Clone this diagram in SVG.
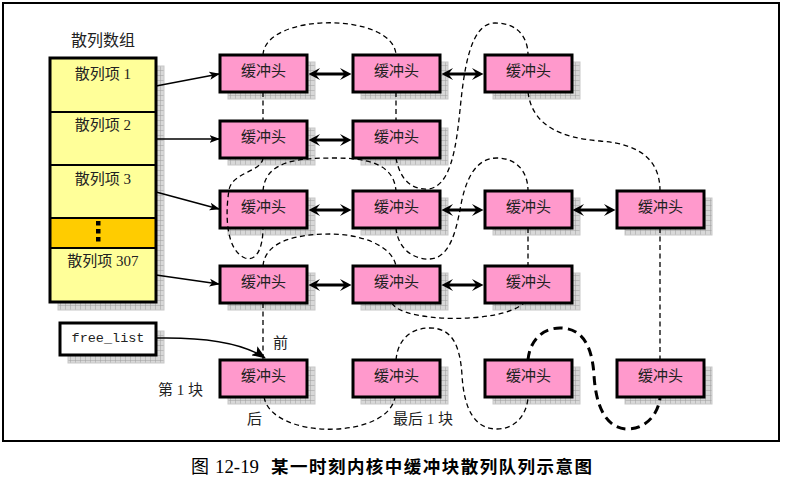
<svg xmlns="http://www.w3.org/2000/svg" width="785" height="477" viewBox="0 0 785 477">
<defs>
<pattern id="grid" patternUnits="userSpaceOnUse" width="5" height="5">
<rect width="5" height="5" fill="#d8d8d8"/>
<path d="M0,0.3H5M0.3,0V5" stroke="#9a9a9a" stroke-width="0.6" fill="none"/>
</pattern>
<marker id="dbl" markerUnits="userSpaceOnUse" markerWidth="13" markerHeight="13" refX="5" refY="6.5" orient="auto-start-reverse" viewBox="0 0 13 13">
<path d="M0,0.5 L11.5,6.5 L0,12.5 L4.5,6.5 z" fill="#000"/>
</marker>
<marker id="thin" markerUnits="userSpaceOnUse" markerWidth="11" markerHeight="9" refX="9.5" refY="4.5" orient="auto" viewBox="0 0 11 9">
<path d="M0,0.5 L10.5,4.5 L0,8.5 L2.5,4.5 z" fill="#000"/>
</marker>
<marker id="big" markerUnits="userSpaceOnUse" markerWidth="14" markerHeight="11" refX="13" refY="5.5" orient="auto" viewBox="0 0 14 11">
<path d="M0,0 L14,5.5 L0,11 L3,5.5 z" fill="#000"/>
</marker>
</defs>
<style>
.frame{fill:#fff;stroke:#000;stroke-width:2}
.sh{fill:url(#grid);stroke:#c8c8c8;stroke-width:1}
.buf{fill:#ff99cc;stroke:#000;stroke-width:3}
.cell{fill:#ffff99;stroke:#000;stroke-width:2}
.orange{fill:#ffcc00;stroke:#000;stroke-width:2}
.t{font-family:"Liberation Serif","Noto Sans CJK SC",serif;font-size:15px;fill:#222}
.m{font-family:"Liberation Mono",monospace;font-size:13.5px;fill:#222}
.cap{font-family:"Liberation Serif","Noto Sans CJK SC",serif;font-size:18px;fill:#000}
.capb{font-family:"Noto Sans CJK SC",sans-serif;font-size:17.5px;font-weight:bold;fill:#000}
.dash{fill:none;stroke:#000;stroke-width:1.3;stroke-dasharray:5 3.5}
.thick{fill:none;stroke:#000;stroke-width:3;stroke-dasharray:9 5.5}
.da{stroke:#000;stroke-width:3;marker-start:url(#dbl);marker-end:url(#dbl)}
.ta{stroke:#000;stroke-width:1.5;fill:none;marker-end:url(#thin)}
</style>
<rect class="frame" x="3" y="3" width="776" height="438"/>

<g id="hash-array">
<text class="t" x="103" y="46" text-anchor="middle" style="font-size:16px">散列数组</text>
<rect class="sh" x="58" y="66" width="106" height="244"/>
<rect class="cell" x="50" y="58" width="106" height="54"/>
<rect class="cell" x="50" y="112" width="106" height="53"/>
<rect class="cell" x="50" y="165" width="106" height="53"/>
<rect class="orange" x="50" y="218" width="106" height="30"/>
<rect class="cell" x="50" y="248" width="106" height="54"/>
<rect x="50" y="58" width="106" height="244" fill="none" stroke="#000" stroke-width="3"/>
<rect x="96" y="221" width="4.5" height="4.5" fill="#000"/>
<rect x="96" y="229" width="4.5" height="4.5" fill="#000"/>
<rect x="96" y="237" width="4.5" height="4.5" fill="#000"/>
<text class="t" x="103" y="79" text-anchor="middle">散列项 1</text>
<text class="t" x="103" y="130" text-anchor="middle">散列项 2</text>
<text class="t" x="103" y="184" text-anchor="middle">散列项 3</text>
<text class="t" x="103" y="266" text-anchor="middle">散列项 307</text>
</g>

<g id="free-list">
<rect class="sh" x="68" y="331" width="96" height="32"/>
<rect x="60" y="323" width="96" height="32" fill="#fff" stroke="#000" stroke-width="3"/>
<text class="m" x="108" y="342" text-anchor="middle">free_list</text>
</g>

<g id="b11"><rect class="sh" x="228" y="62" width="87" height="37"/><rect class="buf" x="220" y="55" width="87" height="37"/><text class="t" x="263.5" y="76" text-anchor="middle">缓冲头</text></g>
<g id="b12"><rect class="sh" x="361" y="62" width="87" height="37"/><rect class="buf" x="353" y="55" width="87" height="37"/><text class="t" x="396.5" y="76" text-anchor="middle">缓冲头</text></g>
<g id="b13"><rect class="sh" x="493" y="62" width="87" height="37"/><rect class="buf" x="485" y="55" width="87" height="37"/><text class="t" x="528.5" y="76" text-anchor="middle">缓冲头</text></g>

<g id="b21"><rect class="sh" x="228" y="128" width="87" height="37"/><rect class="buf" x="220" y="121" width="87" height="37"/><text class="t" x="263.5" y="142" text-anchor="middle">缓冲头</text></g>
<g id="b22"><rect class="sh" x="361" y="128" width="87" height="37"/><rect class="buf" x="353" y="121" width="87" height="37"/><text class="t" x="396.5" y="142" text-anchor="middle">缓冲头</text></g>

<g id="b31"><rect class="sh" x="228" y="198" width="87" height="37"/><rect class="buf" x="220" y="191" width="87" height="37"/><text class="t" x="263.5" y="212" text-anchor="middle">缓冲头</text></g>
<g id="b32"><rect class="sh" x="361" y="198" width="87" height="37"/><rect class="buf" x="353" y="191" width="87" height="37"/><text class="t" x="396.5" y="212" text-anchor="middle">缓冲头</text></g>
<g id="b33"><rect class="sh" x="493" y="198" width="87" height="37"/><rect class="buf" x="485" y="191" width="87" height="37"/><text class="t" x="528.5" y="212" text-anchor="middle">缓冲头</text></g>
<g id="b34"><rect class="sh" x="625" y="198" width="87" height="37"/><rect class="buf" x="617" y="191" width="87" height="37"/><text class="t" x="660.5" y="212" text-anchor="middle">缓冲头</text></g>

<g id="b41"><rect class="sh" x="228" y="273" width="87" height="37"/><rect class="buf" x="220" y="266" width="87" height="37"/><text class="t" x="263.5" y="287" text-anchor="middle">缓冲头</text></g>
<g id="b42"><rect class="sh" x="361" y="273" width="87" height="37"/><rect class="buf" x="353" y="266" width="87" height="37"/><text class="t" x="396.5" y="287" text-anchor="middle">缓冲头</text></g>
<g id="b43"><rect class="sh" x="493" y="273" width="87" height="37"/><rect class="buf" x="485" y="266" width="87" height="37"/><text class="t" x="528.5" y="287" text-anchor="middle">缓冲头</text></g>

<g id="b51"><rect class="sh" x="228" y="367" width="87" height="37"/><rect class="buf" x="220" y="360" width="87" height="37"/><text class="t" x="263.5" y="381" text-anchor="middle">缓冲头</text></g>
<g id="b52"><rect class="sh" x="361" y="367" width="87" height="37"/><rect class="buf" x="353" y="360" width="87" height="37"/><text class="t" x="396.5" y="381" text-anchor="middle">缓冲头</text></g>
<g id="b53"><rect class="sh" x="493" y="367" width="87" height="37"/><rect class="buf" x="485" y="360" width="87" height="37"/><text class="t" x="528.5" y="381" text-anchor="middle">缓冲头</text></g>
<g id="b54"><rect class="sh" x="625" y="367" width="87" height="37"/><rect class="buf" x="617" y="360" width="87" height="37"/><text class="t" x="660.5" y="381" text-anchor="middle">缓冲头</text></g>

<g id="connectors">
<line class="da" x1="315" y1="74" x2="345" y2="74"/>
<line class="da" x1="448" y1="74" x2="477" y2="74"/>
<line class="da" x1="315" y1="140" x2="345" y2="140"/>
<line class="da" x1="315" y1="210" x2="345" y2="210"/>
<line class="da" x1="448" y1="210" x2="477" y2="210"/>
<line class="da" x1="579" y1="210" x2="609" y2="210"/>
<line class="da" x1="315" y1="285" x2="345" y2="285"/>
<line class="da" x1="448" y1="285" x2="477" y2="285"/>

<line class="ta" x1="156" y1="86" x2="219" y2="74"/>
<line class="ta" x1="156" y1="139" x2="219" y2="139"/>
<line class="ta" x1="156" y1="192" x2="219" y2="209"/>
<line class="ta" x1="156" y1="275" x2="219" y2="284"/>
<path d="M156,338 C205,337 243,343 265,358" fill="none" stroke="#000" stroke-width="1.5" marker-end="url(#big)"/>

<path class="dash" d="M263,55 C265,12 394,12 396,55"/>
<path class="dash" d="M263,92 V121"/>
<path class="dash" d="M396,92 V121"/>
<path class="dash" d="M396,158 C400,180 412,190 428,189 C450,187 456,150 460,110 C464,70 470,23 495,23 C520,23 528,40 528,55"/>
<path class="dash" d="M528,92 C532,125 560,138 600,141 C640,144 660,160 660,191"/>
<path class="dash" d="M263,158 C262,172 232,172 229,190 C225,215 226,250 245,258 C258,262 263,245 263,228"/>
<path class="dash" d="M263,191 C265,160 300,158 335,158 C370,158 394,165 396,191"/>
<path class="dash" d="M396,228 C398,250 415,260 430,259 C450,258 456,230 460,210 C465,180 475,158 497,158 C515,158 528,170 528,191"/>
<path class="dash" d="M528,228 V266"/>
<path class="dash" d="M660,228 V360"/>
<path class="dash" d="M263,266 C265,240 300,234 330,234 C360,234 392,245 396,266"/>
<path class="dash" d="M392,303 C400,322 500,325 524,303"/>
<path class="dash" d="M263,303 V360"/>
<path class="dash" d="M264,397 C272,440 388,440 395,397"/>
<path class="dash" d="M396,360 C398,338 412,328 430,328 C452,328 460,345 462,375 C464,410 475,429 497,429 C515,429 527,415 528,397"/>
<path class="thick" d="M528,360 C530,338 545,328 560,328 C582,328 592,345 594,375 C596,410 608,429 628,429 C645,429 658,415 660,398"/>
</g>

<g id="labels">
<text class="t" x="273" y="348">前</text>
<text class="t" x="158" y="395">第 1 块</text>
<text class="t" x="247" y="424">后</text>
<text class="t" x="393" y="424">最后 1 块</text>
</g>

<g id="caption">
<text class="cap" x="191" y="473">图</text>
<text class="cap" x="215" y="473" textLength="44" lengthAdjust="spacingAndGlyphs">12-19</text>
<text class="capb" x="271" y="473" textLength="321" lengthAdjust="spacing">某一时刻内核中缓冲块散列队列示意图</text>
</g>
</svg>
